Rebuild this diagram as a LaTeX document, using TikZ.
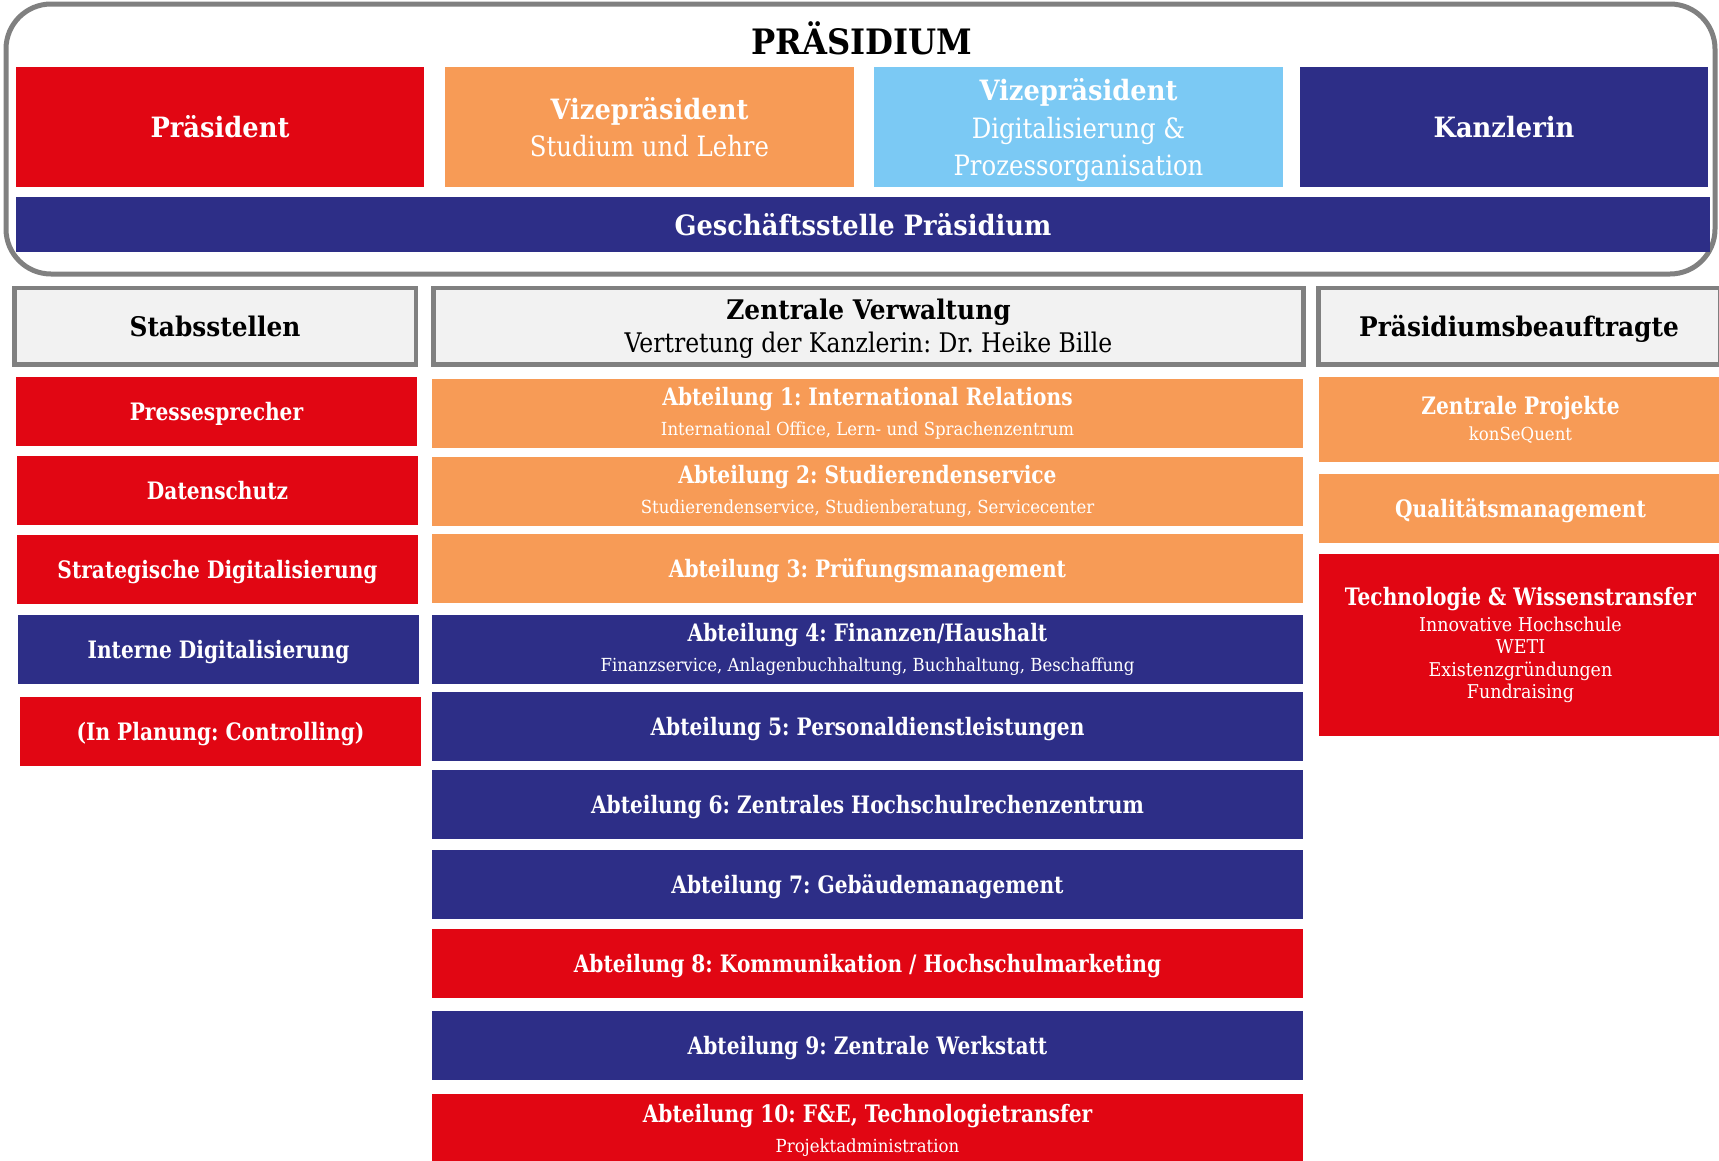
\documentclass[tikz,border=0pt]{standalone}
\usepackage{fontspec}
\setmainfont{DejaVu Serif}[FakeStretch=0.92]
\newfontfamily\schmalfont{DejaVu Serif}[FakeStretch=0.84]
\newfontfamily\mittelfont{DejaVu Serif}[FakeStretch=0.87]
\usepackage{tikz}
\usetikzlibrary{positioning}
\frenchspacing

\definecolor{hsred}{HTML}{E10613}
\definecolor{hsorange}{HTML}{F79B56}
\definecolor{hslight}{HTML}{7BC9F4}
\definecolor{hsblue}{HTML}{2D2E87}
\definecolor{hsgray}{HTML}{808080}
\definecolor{hsfill}{HTML}{F2F2F2}

\begin{document}
\begin{tikzpicture}[x=1pt,y=-1pt,
  unit/.style={rectangle,inner sep=0pt,align=center,text=white,minimum height=69pt},
  flach/.style={text depth=0pt},
  spitze/.style={rectangle,inner sep=0pt,align=center,text=white,minimum width=408.5pt,minimum height=120pt,font=\fontsize{28}{37.5}\selectfont},
  kopf/.style={rectangle,inner sep=0pt,align=center,draw=hsgray,line width=4.5pt,fill=hsfill,minimum height=76.5pt,font=\fontsize{27}{33}\selectfont},
  stab/.style={unit,flach,minimum width=401pt,font=\schmalfont\bfseries\fontsize{24}{30}\selectfont},
  abt/.style={unit,minimum width=871pt,font=\schmalfont\bfseries\fontsize{24}{30}\selectfont},
  beauf/.style={unit,minimum width=403pt,font=\schmalfont\bfseries\fontsize{24}{26}\selectfont}]
\useasboundingbox[fill=white] (0,0) rectangle (1719,1160);

% Praesidium
\draw[hsgray,line width=5pt,rounded corners=45pt] (6,4) rectangle (1715,274);
\node[font=\bfseries\fontsize{35}{40}\selectfont] (titel) at (862,38) {PRÄSIDIUM};
\node[spitze,fill=hsred] (praesident) at (220,127) {\bfseries Präsident};
\node[spitze,fill=hsorange] (vpstudium) at (649.5,127) {{\bfseries Vizepräsident}\\{\mittelfont Studium und Lehre}};
\node[spitze,flach,fill=hslight] (vpdigital) at (1078.5,127) {{\bfseries Vizepräsident}\\{\mittelfont Digitalisierung \&}\\{\mittelfont Prozessorganisation}};
\node[spitze,fill=hsblue] (kanzlerin) at (1504,127) {\bfseries Kanzlerin};
\node[spitze,fill=hsblue,minimum width=1694pt,minimum height=55pt] (geschaeft) at (863,224.5) {\bfseries Geschäftsstelle Präsidium};

% Spaltenkoepfe
\node[kopf,minimum width=401.5pt] (stabsstellen) at (215,326) {\bfseries Stabsstellen};
\node[kopf,flach,minimum width=870pt] (verwaltung) at (868.5,326) {\bfseries Zentrale Verwaltung\\{\mittelfont Vertretung der Kanzlerin: Dr. Heike Bille}};
\node[kopf,flach,minimum width=401.5pt] (beauftragte) at (1519,326) {\bfseries Präsidiumsbeauftragte};

% Stabsstellen
\node[stab,fill=hsred] (presse) at (216.5,411.3) {Pressesprecher};
\node[stab,fill=hsred] (datenschutz) at (217.5,490.5) {Datenschutz};
\node[stab,fill=hsred] (strategisch) at (217.5,569.3) {Strategische Digitalisierung};
\node[stab,fill=hsblue] (intern) at (218.5,649.5) {Interne Digitalisierung};
\node[stab,fill=hsred] (controlling) at (220.5,731.5) {(In Planung: Controlling)};

% Zentrale Verwaltung
\node[abt,fill=hsorange] (abt1) at (867.5,413) {Abteilung 1: International Relations\\{\normalfont\fontsize{18}{30}\selectfont International Office, Lern- und Sprachenzentrum}};
\node[abt,fill=hsorange] (abt2) at (867.5,491.5) {Abteilung 2: Studierendenservice\\{\normalfont\fontsize{18}{30}\selectfont Studierendenservice, Studienberatung, Servicecenter}};
\node[abt,flach,fill=hsorange] (abt3) at (867.5,568.5) {Abteilung 3: Prüfungsmanagement};
\node[abt,fill=hsblue] (abt4) at (867.5,649) {Abteilung 4: Finanzen/Haushalt\\{\normalfont\fontsize{18}{30}\selectfont Finanzservice, Anlagenbuchhaltung, Buchhaltung, Beschaffung}};
\node[abt,flach,fill=hsblue] (abt5) at (867.5,726.5) {Abteilung 5: Personaldienstleistungen};
\node[abt,flach,fill=hsblue] (abt6) at (867.5,804.5) {Abteilung 6: Zentrales Hochschulrechenzentrum};
\node[abt,flach,fill=hsblue] (abt7) at (867.5,884.5) {Abteilung 7: Gebäudemanagement};
\node[abt,flach,fill=hsred] (abt8) at (867.5,963.5) {Abteilung 8: Kommunikation / Hochschulmarketing};
\node[abt,flach,fill=hsblue] (abt9) at (867.5,1045.5) {Abteilung 9: Zentrale Werkstatt};
\node[abt,flach,fill=hsred] (abt10) at (867.5,1128.5) {Abteilung 10: F\&E, Technologietransfer\\{\normalfont\fontsize{18}{30}\selectfont Projektadministration}};

% Praesidiumsbeauftragte
\node[beauf,fill=hsorange,minimum height=85pt] (projekte) at (1520.5,419.5) {Zentrale Projekte\\{\normalfont\fontsize{18}{26}\selectfont konSeQuent}};
\node[beauf,flach,fill=hsorange] (qualitaet) at (1520.5,508.5) {Qualitätsmanagement};
\node[beauf,fill=hsred,minimum height=182pt,font=\schmalfont\bfseries\fontsize{24}{22.5}\selectfont] (transfer) at (1520.5,645) {Technologie \& Wissenstransfer\\[3.5pt]{\normalfont\fontsize{19}{22.5}\selectfont Innovative Hochschule}\\{\normalfont\fontsize{19}{22.5}\selectfont WETI}\\{\normalfont\fontsize{19}{22.5}\selectfont Existenzgründungen}\\{\normalfont\fontsize{19}{22.5}\selectfont Fundraising}};
\end{tikzpicture}
\end{document}
